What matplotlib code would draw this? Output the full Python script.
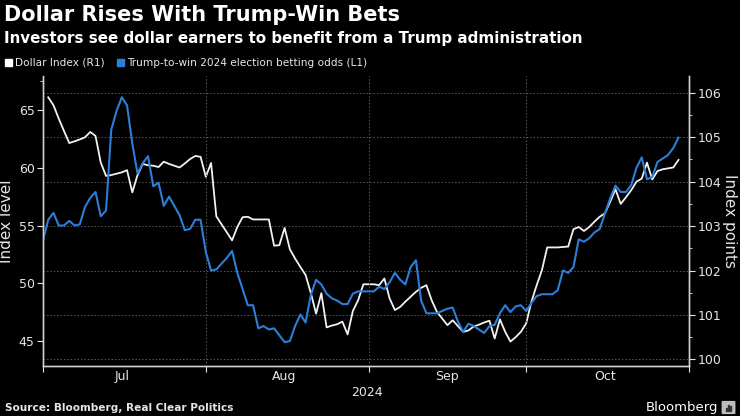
import matplotlib
matplotlib.use("Agg")
import matplotlib.pyplot as plt
import matplotlib.dates as mdates
from matplotlib.patches import FancyBboxPatch, Rectangle
import pandas as pd

# Trump-to-win betting odds (left axis), daily Jul 1 - Oct 30 2024
odds_dates = pd.date_range("2024-07-01", "2024-10-30", freq="D")
odds = [
    53.7, 55.5, 56.1, 55.0, 55.0, 55.4, 55.0, 55.1, 56.6, 57.4, 57.9, 55.8, 56.3, 63.3, 64.9, 66.1,
    65.4, 62.1, 59.5, 60.4, 61.0, 58.4, 58.7, 56.7, 57.5, 56.7, 55.9, 54.6, 54.7, 55.5, 55.5,
    52.7, 51.1, 51.2, 51.7, 52.2, 52.8, 50.9, 49.5, 48.1, 48.1, 46.1, 46.3, 46.0, 46.1, 45.5, 44.9,
    45.0, 46.3, 47.3, 46.6, 49.0, 50.3, 49.9, 49.1, 48.7, 48.5, 48.2, 48.2, 49.1, 49.3, 49.3,
    49.3, 49.3, 49.7, 49.5, 50.1, 50.9, 50.3, 49.9, 51.4, 52.0, 48.5, 47.4, 47.4, 47.4, 47.6,
    47.8, 47.9, 46.7, 45.8, 46.5, 46.3, 46.0, 45.7, 46.3, 46.4, 47.4, 48.1, 47.5, 48.0, 48.1,
    47.6, 48.3, 48.9, 49.05, 49.05, 49.05, 49.4, 51.1, 50.9, 51.4, 53.8, 53.6, 53.9, 54.4, 54.7,
    56.05, 57.35, 58.45, 57.9, 57.9, 58.5, 60.0, 60.9, 59.0, 59.2, 60.5, 60.8, 61.1, 61.7, 62.6,
]

# Dollar Index (right axis), daily Jul 2 - Oct 30 2024
dxy_dates = pd.date_range("2024-07-02", "2024-10-30", freq="D")
dxy = [
    105.90, 105.72, 105.42, 105.14, 104.87, 104.91, 104.95, 105.00, 105.12, 105.03, 104.43, 104.13,
    104.15, 104.18, 104.21, 104.26, 103.76, 104.15, 104.40, 104.37, 104.36, 104.33, 104.45, 104.40,
    104.36, 104.32, 104.41, 104.51, 104.58, 104.56,
    104.11, 104.42, 103.22, 103.04, 102.86, 102.68, 102.98, 103.20, 103.21, 103.15, 103.15, 103.15,
    103.15, 102.56, 102.57, 102.96, 102.48, 102.27, 102.08, 101.90, 101.49, 101.03, 101.49, 100.72,
    100.76, 100.79, 100.85, 100.56, 101.09, 101.33, 101.69,
    101.69, 101.69, 101.67, 101.82, 101.37, 101.11, 101.18, 101.30, 101.41, 101.52, 101.61, 101.67,
    101.33, 101.07, 100.92, 100.77, 100.88, 100.75, 100.62, 100.65, 100.74, 100.78, 100.83, 100.87,
    100.47, 100.90, 100.62, 100.40, 100.50, 100.62,
    100.81, 101.30, 101.67, 102.01, 102.52, 102.52, 102.52, 102.53, 102.54, 102.93, 102.98, 102.89,
    102.98, 103.10, 103.21, 103.29, 103.55, 103.83, 103.50, 103.65, 103.81, 104.00, 104.07, 104.43,
    104.05, 104.24, 104.28, 104.30, 104.32, 104.49,
]

left_ticks = [45, 50, 55, 60, 65]
right_ticks = [100, 101, 102, 103, 104, 105, 106]

BG = "#000000"
TXT = "#e6e6e6"
BLUE = "#2b7fd8"
GRID = "#5a5a5a"

plt.rcParams["font.family"] = ["DejaVu Sans"]

fig = plt.figure(figsize=(7.4, 4.16), dpi=100, facecolor=BG)
ax = fig.add_axes([43 / 740, 50 / 416, 646 / 740, 290 / 416], facecolor=BG)
ax2 = ax.twinx()

ax2.plot(dxy_dates, dxy, color="#f2f2f2", lw=1.3, zorder=3)
ax.plot(odds_dates, odds, color=BLUE, lw=1.5, zorder=2)
ax.set_zorder(ax2.get_zorder() + 1)
ax.patch.set_visible(False)
ax2.patch.set_facecolor(BG)

ax.set_xlim(pd.Timestamp("2024-07-01"), pd.Timestamp("2024-11-01"))
ax.set_ylim(42.84, 67.94)
ax2.set_ylim(99.85, 106.38)

ax.set_yticks(left_ticks)
ax.set_yticks([42.5 + 2.5 * k for k in range(1, 11, 2)] + [67.5], minor=True)
ax2.set_yticks(right_ticks)
ax2.set_yticks([v + 0.5 for v in right_ticks[:-1]], minor=True)

ax.xaxis.set_major_locator(mdates.MonthLocator())
ax.xaxis.set_major_formatter(plt.NullFormatter())
ax.xaxis.set_minor_locator(mdates.MonthLocator(bymonthday=16))
ax.xaxis.set_minor_formatter(mdates.DateFormatter("%b"))
ax.tick_params(axis="x", which="major", length=4, color=TXT, direction="out")
ax.tick_params(axis="x", which="minor", length=0, labelsize=9, labelcolor=TXT, pad=3)

for a in (ax, ax2):
    a.tick_params(axis="y", which="both", colors=TXT, labelsize=9, labelcolor=TXT)
    a.tick_params(axis="y", which="major", length=4, pad=2)
    a.tick_params(axis="y", which="minor", length=2)
    a.spines["top"].set_visible(False)
    for s in ("left", "right", "bottom"):
        a.spines[s].set_color("#cfcfcf")
        a.spines[s].set_linewidth(1)

ax2.grid(axis="y", color=GRID, ls=(0, (1.5, 2)), lw=0.7)
ax2.set_axisbelow(True)
ax.grid(axis="x", which="major", color=GRID, ls=(0, (1.5, 2)), lw=0.7)

ax.set_ylabel("Index level", color=TXT, fontsize=11)
ax.yaxis.set_label_coords(-29 / 646, 0.5)
ax2.set_ylabel("Index points", color=TXT, fontsize=11, rotation=270, va="center")
ax2.yaxis.set_label_coords(1 + 41 / 646, 0.5)

fig.text(367 / 740, 1 - 393 / 416, "2024", color=TXT, fontsize=9, ha="center", va="center")

# title block
fig.text(4 / 740, 1 - 15 / 416, "Dollar Rises With Trump-Win Bets", color="white",
         fontsize=15, fontweight="bold", ha="left", va="center")
fig.text(4 / 740, 1 - 38 / 416,
         "Investors see dollar earners to benefit from a Trump administration",
         color="white", fontsize=10.9, fontweight="bold", ha="left", va="center")

# legend
fig.patches.append(Rectangle((5 / 740, 1 - 66 / 416), 7 / 740, 7 / 416,
                             transform=fig.transFigure, color="white"))
fig.text(15 / 740, 1 - 62.5 / 416, "Dollar Index (R1)", color=TXT, fontsize=7.6,
         ha="left", va="center")
fig.patches.append(Rectangle((117 / 740, 1 - 66 / 416), 7 / 740, 7 / 416,
                             transform=fig.transFigure, color=BLUE))
fig.text(127 / 740, 1 - 62.5 / 416, "Trump-to-win 2024 election betting odds (L1)",
         color=TXT, fontsize=7.6, ha="left", va="center")

# footer
fig.text(5 / 740, 1 - 408 / 416, "Source: Bloomberg, Real Clear Politics", color=TXT,
         fontsize=7.6, fontweight="bold", ha="left", va="center")
fig.text(718 / 740, 1 - 407 / 416, "Bloomberg", color="white", fontsize=9.5,
         ha="right", va="center")
fig.patches.append(FancyBboxPatch((723 / 740, 1 - 413 / 416), 11 / 740, 11 / 416,
                                  boxstyle="round,pad=0.001", transform=fig.transFigure,
                                  color="#bdbdbd"))
for i, h in enumerate([3, 6, 4.5]):
    fig.patches.append(Rectangle(((725.5 + i * 2.3) / 740, 1 - 410.5 / 416), 1.3 / 740, h / 416,
                                 transform=fig.transFigure, color="#333333"))

fig.savefig("out.png", dpi=100, facecolor=BG)
